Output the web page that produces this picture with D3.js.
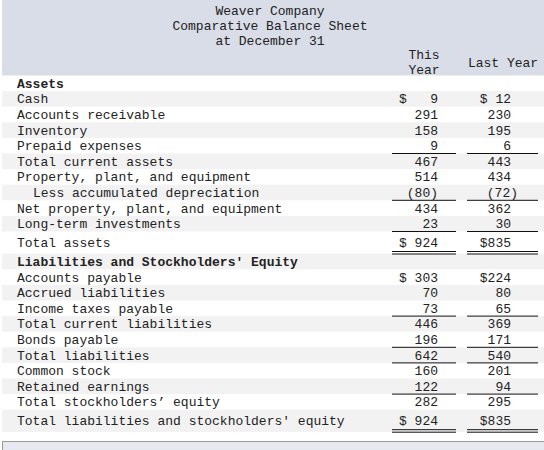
<!DOCTYPE html>
<html lang="en">
<head>
<meta charset="UTF-8">
<title>Weaver Company Comparative Balance Sheet</title>
<script src="https://cdn.jsdelivr.net/npm/d3@7"></script>
<style>
    body { margin: 0; background: #fff; }
    text { font-family: "Liberation Mono", "DejaVu Sans Mono", monospace; font-size: 13px; fill: #222; white-space: pre; }
</style>
</head>
<body>
<svg width="544" height="450"></svg>
<script>
    // data
    const titleLines = ['Weaver Company', 'Comparative Balance Sheet', 'at December 31'];
    const columnHeads = [['This', 'Year'], ['Last Year']];

    const labels = [
        'Assets',
        'Cash',
        'Accounts receivable',
        'Inventory',
        'Prepaid expenses',
        'Total current assets',
        'Property, plant, and equipment',
        'Less accumulated depreciation',
        'Net property, plant, and equipment',
        'Long-term investments',
        'Total assets',
        "Liabilities and Stockholders' Equity",
        'Accounts payable',
        'Accrued liabilities',
        'Income taxes payable',
        'Total current liabilities',
        'Bonds payable',
        'Total liabilities',
        'Common stock',
        'Retained earnings',
        'Total stockholders\u2019 equity',
        "Total liabilities and stockholders' equity"
    ];
    const thisYear = [null, 9, 291, 158, 9, 467, 514, -80, 434, 23, 924,
        null, 303, 70, 73, 446, 196, 642, 160, 122, 282, 924];
    const lastYear = [null, 12, 230, 195, 6, 443, 434, -72, 362, 30, 835,
        null, 224, 80, 65, 369, 171, 540, 201, 94, 295, 835];

    const headings = ['Assets', "Liabilities and Stockholders' Equity"];
    const indented = ['Less accumulated depreciation'];
    const dollarRows = ['Cash', 'Total assets', 'Accounts payable', "Total liabilities and stockholders' equity"];
    const ruleBelow = ['Prepaid expenses', 'Less accumulated depreciation', 'Long-term investments',
        'Income taxes payable', 'Bonds payable', 'Total liabilities', 'Retained earnings'];
    const doubleRuleBelow = ['Total assets', "Total liabilities and stockholders' equity"];

    // layout
    const svg = d3.select('svg');
    const W = 544;
    const headerH = 75.5;
    const rowH = 15.6, bigRowH = 22.2;
    const labelX = 17, indentX = 33;
    const cols = [
        {x0: 392, x1: 456, right: 438, dollarX: 399, pad: 4},
        {x0: 467, x1: 538, right: 511, dollarX: null, pad: 3}
    ];

    const rows = labels.map((label, i) => ({
        label: label,
        i: i,
        vals: [thisYear[i], lastYear[i]],
        h: doubleRuleBelow.includes(label) ? bigRowH : rowH
    }));
    const tops = [0].concat(Array.from(d3.cumsum(rows, d => d.h))).map(v => v + headerH);
    const y = d3.scaleOrdinal().domain(labels).range(tops);
    const textY = d => y(d.label) + (d.h === bigRowH ? 11 : d.h / 2);

    // header block
    svg.append('rect')
        .attr('x', 2).attr('y', 0)
        .attr('width', W - 2).attr('height', headerH)
        .attr('fill', '#d9dde7');

    svg.selectAll('.title')
        .data(titleLines)
        .enter()
        .append('text')
        .attr('x', 270)
        .attr('y', (d, i) => 10 + i * 15.4)
        .attr('dy', '0.35em')
        .attr('text-anchor', 'middle')
        .text(d => d);

    const colCenters = [424, 503];
    columnHeads.forEach(function (lines, c) {
        svg.selectAll('.head' + c)
            .data(lines)
            .enter()
            .append('text')
            .attr('x', colCenters[c])
            .attr('y', (d, i) => 62 + (i - (lines.length - 1) / 2) * 15.4)
            .attr('dy', '0.35em')
            .attr('text-anchor', 'middle')
            .text(d => d);
    });

    // striped rows
    svg.selectAll('.stripe')
        .data(rows.filter(d => d.i % 2 === 1))
        .enter()
        .append('rect')
        .attr('x', 2)
        .attr('y', d => y(d.label))
        .attr('width', W - 2)
        .attr('height', d => d.h)
        .attr('fill', '#f2f2f2');

    // labels
    svg.selectAll('.label')
        .data(rows)
        .enter()
        .append('text')
        .attr('x', d => indented.includes(d.label) ? indentX : labelX)
        .attr('y', textY)
        .attr('dy', '0.35em')
        .attr('font-weight', d => headings.includes(d.label) ? 'bold' : null)
        .text(d => d.label);

    // values
    cols.forEach(function (col, c) {
        const g = svg.append('g');
        const valued = rows.filter(d => d.vals[c] !== null);
        g.selectAll('text.val')
            .data(valued)
            .enter()
            .append('text')
            .attr('x', function (d) {
                return col.right + (c === 1 && d.vals[c] < 0 ? 7 : 0);
            })
            .attr('y', textY)
            .attr('dy', '0.35em')
            .attr('text-anchor', 'end')
            .text(function (d) {
                let v = d.vals[c];
                let s = v < 0 ? '(' + (-v) + ')' : String(v);
                if (c === 1 && dollarRows.includes(d.label)) s = '$' + s.padStart(col.pad);
                return s;
            });
        if (col.dollarX !== null) {
            g.selectAll('text.dollar')
                .data(valued.filter(d => dollarRows.includes(d.label)))
                .enter()
                .append('text')
                .attr('x', col.dollarX)
                .attr('y', textY)
                .attr('dy', '0.35em')
                .text('$');
        }

        g.selectAll('line.rule')
            .data(rows.filter(d => ruleBelow.includes(d.label)))
            .enter()
            .append('line')
            .attr('x1', col.x0).attr('x2', col.x1)
            .attr('y1', d => y(d.label) + d.h)
            .attr('y2', d => y(d.label) + d.h)
            .attr('stroke', '#111').attr('stroke-width', 1);

        [20, 22.5].forEach(function (off, k) {
            g.selectAll('line.dbl' + k)
                .data(rows.filter(d => doubleRuleBelow.includes(d.label)))
                .enter()
                .append('line')
                .attr('class', 'dbl' + k)
                .attr('x1', col.x0).attr('x2', col.x1)
                .attr('y1', d => y(d.label) + off)
                .attr('y2', d => y(d.label) + off)
                .attr('stroke', '#111').attr('stroke-width', 1);
        });
    });

    // footer box
    svg.append('rect')
        .attr('x', 2.5).attr('y', 441.5)
        .attr('width', W).attr('height', 20)
        .attr('fill', '#e6e9f0')
        .attr('stroke', '#9a9a9a');
</script>
</body>
</html>
